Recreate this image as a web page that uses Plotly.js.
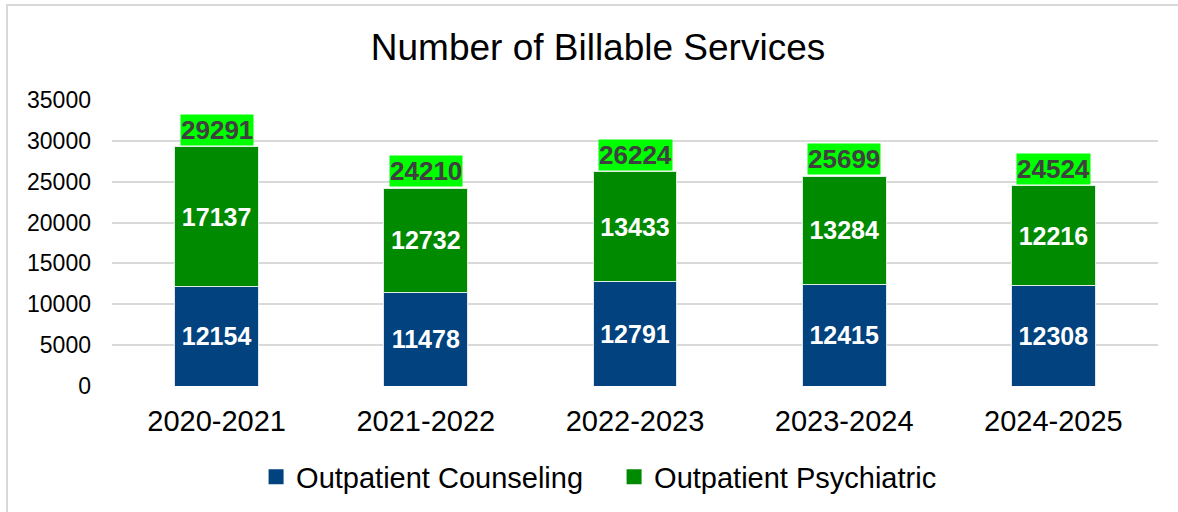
<!DOCTYPE html>
<html>
<head>
<meta charset="utf-8">
<script src="https://cdn.plot.ly/plotly-3.0.1.min.js"></script>
<style>
  html, body { margin: 0; padding: 0; background: #fff; }
  #chart { width: 1178px; height: 512px; }
  #frame { position: absolute; left: 6px; top: 4px; right: 0; bottom: 0;
           border-left: 2px solid #d9d9d9; border-top: 2px solid #d9d9d9; pointer-events: none; }
</style>
</head>
<body>
<div id="chart"></div>
<div id="frame"></div>
<script>
const categories = ['2020-2021', '2021-2022', '2022-2023', '2023-2024', '2024-2025'];
const counseling = [12154, 11478, 12791, 12415, 12308];
const psychiatric = [17137, 12732, 13433, 13284, 12216];
const totals = [29291, 24210, 26224, 25699, 24524];
const yTicks = [0, 5000, 10000, 15000, 20000, 25000, 30000, 35000];
const seriesNames = ['Outpatient Counseling', 'Outpatient Psychiatric'];

const FONT = 'Liberation Sans, Arial, sans-serif';
const BLUE = '#02427f';
const GREEN = '#008a00';

const traces = [
  {
    type: 'bar', name: seriesNames[0], x: categories, y: counseling, showlegend: false,
    marker: { color: BLUE, line: { color: '#dfe6ee', width: 1 } },
    text: counseling.map(String), textposition: 'inside', insidetextanchor: 'middle',
    textfont: { family: FONT, size: 25, color: '#ffffff', weight: 'bold' },
    hoverinfo: 'none'
  },
  {
    type: 'bar', name: seriesNames[1], x: categories, y: psychiatric, showlegend: false,
    marker: { color: GREEN, line: { color: '#dfeedf', width: 1 } },
    text: psychiatric.map(String), textposition: 'inside', insidetextanchor: 'middle',
    textfont: { family: FONT, size: 25, color: '#ffffff', weight: 'bold' },
    hoverinfo: 'none'
  },
  // legend-only entries (square swatches like the original)
  {
    type: 'scatter', mode: 'markers', name: seriesNames[0], x: [categories[0]], y: [null],
    marker: { symbol: 'square', size: 15, color: BLUE }, hoverinfo: 'none'
  },
  {
    type: 'scatter', mode: 'markers', name: seriesNames[1], x: [categories[0]], y: [null],
    marker: { symbol: 'square', size: 15, color: GREEN }, hoverinfo: 'none'
  }
];

const annotations = categories.map((c, i) => ({
  x: c, y: totals[i], xref: 'x', yref: 'y',
  text: '<b>' + totals[i] + '</b>', showarrow: false,
  yanchor: 'bottom', xanchor: 'center', yshift: 1,
  bgcolor: '#00ff00', borderpad: 0,
  font: { family: FONT, size: 26, color: '#404040' }
}));

const layout = {
  width: 1178, height: 512,
  margin: { l: 112, r: 20, t: 100, b: 126, autoexpand: false },
  paper_bgcolor: '#ffffff', plot_bgcolor: '#ffffff',
  barmode: 'stack', bargap: 0.6,
  font: { family: FONT, color: '#000000' },
  title: {
    text: 'Number of Billable Services',
    font: { family: FONT, size: 37, color: '#000000' },
    x: 598 / 1178, xref: 'container', xanchor: 'center',
    y: 1 - 47 / 512, yref: 'container', yanchor: 'middle'
  },
  xaxis: {
    type: 'category', tickfont: { family: FONT, size: 29, color: '#000000' },
    showgrid: false, zeroline: false, showline: false, ticks: '',
    ticklabelstandoff: 15
  },
  yaxis: {
    range: [0, 35000], tickvals: yTicks, ticktext: yTicks.map(String),
    tickfont: { family: FONT, size: 23, color: '#000000' },
    showgrid: true, gridcolor: '#d9d9d9', gridwidth: 2,
    zeroline: false, showline: false, ticks: '',
    ticklabelstandoff: 20
  },
  showlegend: true,
  legend: {
    orientation: 'h', x: 0.480, xanchor: 'center', y: -0.318, yanchor: 'middle',
    font: { family: FONT, size: 29, color: '#000000' },
    traceorder: 'normal', itemclick: false, itemdoubleclick: false,
    itemwidth: 30, entrywidth: 313
  },
  annotations: annotations
};

Plotly.newPlot('chart', traces, layout, { displayModeBar: false, staticPlot: true });
</script>
</body>
</html>
